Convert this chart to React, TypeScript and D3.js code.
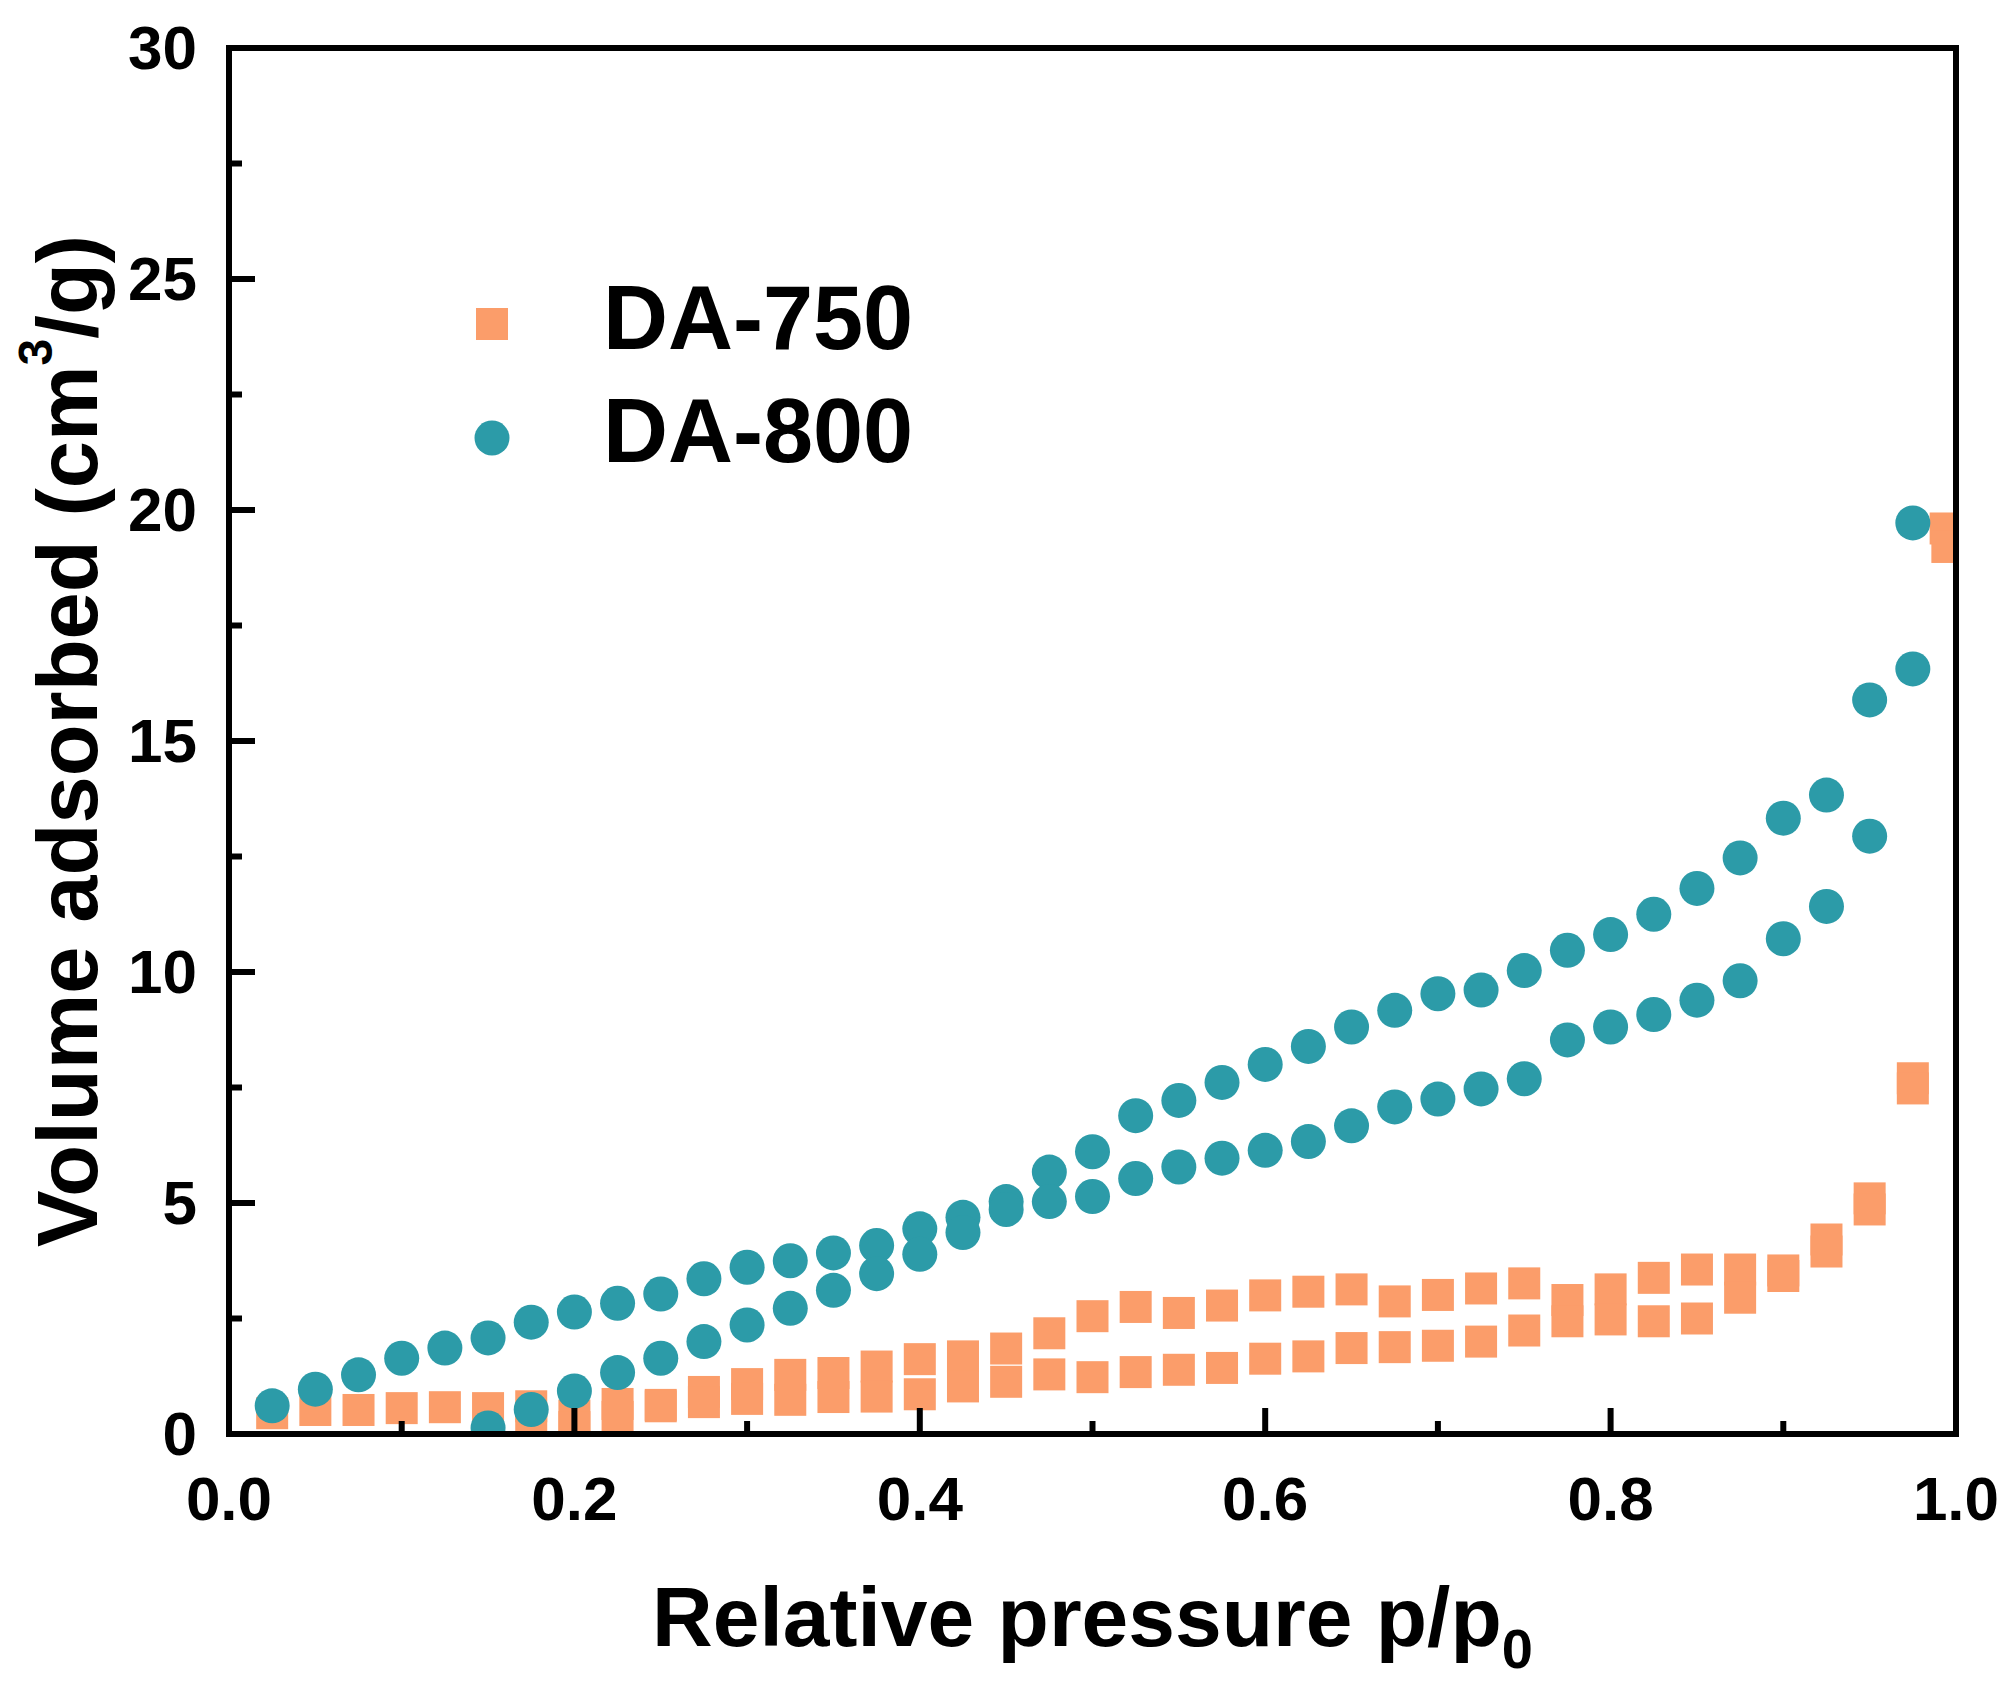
import React from "react";
import * as d3 from "d3";

const W = 2015;
const H = 1688;

// DA-750 (squares) — upper branch
const da750UpperX = [0.025, 0.05, 0.075, 0.1, 0.125, 0.15, 0.175, 0.2, 0.225, 0.25, 0.275, 0.3, 0.325, 0.35, 0.375, 0.4, 0.425, 0.45, 0.475, 0.5, 0.525, 0.55, 0.575, 0.6, 0.625, 0.65, 0.675, 0.7, 0.725, 0.75, 0.775, 0.8, 0.825, 0.85, 0.875, 0.9, 0.925, 0.95, 0.975, 0.994];
const da750UpperY = [0.45, 0.52, 0.52, 0.56, 0.58, 0.56, 0.6, 0.4, 0.65, 0.63, 0.91, 1.08, 1.28, 1.32, 1.46, 1.62, 1.68, 1.85, 2.18, 2.55, 2.75, 2.62, 2.78, 3.0, 3.08, 3.13, 2.87, 3.01, 3.15, 3.26, 2.9, 3.13, 3.38, 3.56, 3.56, 3.54, 4.21, 5.1, 7.7, 19.6];
// DA-750 — lower branch
const da750LowerX = [0.175, 0.2, 0.225, 0.25, 0.275, 0.3, 0.325, 0.35, 0.375, 0.4, 0.425, 0.45, 0.475, 0.5, 0.525, 0.55, 0.575, 0.6, 0.625, 0.65, 0.675, 0.7, 0.725, 0.75, 0.775, 0.8, 0.825, 0.85, 0.875, 0.9, 0.925, 0.95, 0.975, 0.995];
const da750LowerY = [0.2, 0.15, 0.37, 0.6, 0.69, 0.76, 0.74, 0.8, 0.81, 0.86, 1.03, 1.13, 1.29, 1.23, 1.34, 1.39, 1.43, 1.63, 1.68, 1.86, 1.88, 1.91, 2.0, 2.24, 2.44, 2.48, 2.44, 2.5, 2.95, 3.42, 3.95, 4.86, 7.48, 19.2];

// DA-800 (circles) — upper branch
const da800UpperX = [0.025, 0.05, 0.075, 0.1, 0.125, 0.15, 0.175, 0.2, 0.225, 0.25, 0.275, 0.3, 0.325, 0.35, 0.375, 0.4, 0.425, 0.45, 0.475, 0.5, 0.525, 0.55, 0.575, 0.6, 0.625, 0.65, 0.675, 0.7, 0.725, 0.75, 0.775, 0.8, 0.825, 0.85, 0.875, 0.9, 0.925, 0.95, 0.975];
const da800UpperY = [0.61, 0.97, 1.28, 1.64, 1.86, 2.08, 2.42, 2.64, 2.83, 3.03, 3.36, 3.61, 3.75, 3.92, 4.08, 4.44, 4.69, 5.03, 5.67, 6.11, 6.89, 7.22, 7.61, 8.0, 8.39, 8.81, 9.17, 9.53, 9.61, 10.03, 10.47, 10.81, 11.25, 11.81, 12.47, 13.33, 13.83, 15.89, 19.72];
// DA-800 — lower branch
const da800LowerX = [0.15, 0.175, 0.2, 0.225, 0.25, 0.275, 0.3, 0.325, 0.35, 0.375, 0.4, 0.425, 0.45, 0.475, 0.5, 0.525, 0.55, 0.575, 0.6, 0.625, 0.65, 0.675, 0.7, 0.725, 0.75, 0.775, 0.8, 0.825, 0.85, 0.875, 0.9, 0.925, 0.95, 0.975];
const da800LowerY = [0.13, 0.53, 0.93, 1.33, 1.64, 2.0, 2.36, 2.72, 3.11, 3.47, 3.89, 4.36, 4.86, 5.03, 5.14, 5.53, 5.78, 5.97, 6.14, 6.33, 6.67, 7.08, 7.25, 7.47, 7.69, 8.53, 8.81, 9.08, 9.39, 9.81, 10.72, 11.42, 12.94, 16.56];

const xMajorTicks = [0, 0.2, 0.4, 0.6, 0.8, 1.0];
const xMinorTicks = [0.1, 0.3, 0.5, 0.7, 0.9];
const yMajorTicks = [0, 5, 10, 15, 20, 25, 30];
const yMinorTicks = [2.5, 7.5, 12.5, 17.5, 22.5, 27.5];

const legendNames = ["DA-750", "DA-800"];

const ORANGE = "#FB9D6A";
const TEAL = "#2C9BA8";
const FONT = "'Liberation Sans', Arial, Helvetica, sans-serif";

export default function App() {
  const left = 229, right = 1956, top = 48, bottom = 1434;
  const x = d3.scaleLinear().domain([0, 1]).range([left, right]);
  const y = d3.scaleLinear().domain([0, 30]).range([bottom, top]);
  const fmt = d3.format(".1f");
  const sq = 32;
  const r = 17.5;
  const major = 26;
  const minor = 13;
  const sw = 6;

  const squares = [
    ...da750UpperX.map((v, i) => [v, da750UpperY[i]]),
    ...da750LowerX.map((v, i) => [v, da750LowerY[i]]),
  ];
  const circles = [
    ...da800UpperX.map((v, i) => [v, da800UpperY[i]]),
    ...da800LowerX.map((v, i) => [v, da800LowerY[i]]),
  ];

  return (
    <svg
      width={W}
      height={H}
      viewBox={`0 0 ${W} ${H}`}
      style={{ position: "absolute", left: 0, top: 0, background: "#fff" }}
    >
      <defs>
        <clipPath id="plotClip">
          <rect x={left} y={top} width={right - left} height={bottom - top} />
        </clipPath>
      </defs>
      <rect x={0} y={0} width={W} height={H} fill="#fff" />

      <g clipPath="url(#plotClip)">
        {squares.map(([a, b], i) => (
          <rect key={"s" + i} x={x(a) - sq / 2} y={y(b) - sq / 2} width={sq} height={sq} fill={ORANGE} />
        ))}
        {circles.map(([a, b], i) => (
          <circle key={"c" + i} cx={x(a)} cy={y(b)} r={r} fill={TEAL} />
        ))}
      </g>

      {/* ticks */}
      <g stroke="#000" strokeWidth={sw}>
        {xMajorTicks.map((t) => (
          <line key={"xM" + t} x1={x(t)} x2={x(t)} y1={bottom} y2={bottom - major} />
        ))}
        {xMinorTicks.map((t) => (
          <line key={"xm" + t} x1={x(t)} x2={x(t)} y1={bottom} y2={bottom - minor} />
        ))}
        {yMajorTicks.map((t) => (
          <line key={"yM" + t} x1={left} x2={left + major} y1={y(t)} y2={y(t)} />
        ))}
        {yMinorTicks.map((t) => (
          <line key={"ym" + t} x1={left} x2={left + minor} y1={y(t)} y2={y(t)} />
        ))}
      </g>

      {/* frame */}
      <rect
        x={left}
        y={top}
        width={right - left}
        height={bottom - top}
        fill="none"
        stroke="#000"
        strokeWidth={sw}
        strokeLinejoin="miter"
      />

      {/* tick labels */}
      <g fontFamily={FONT} fontWeight="bold" fontSize={62} fill="#000">
        {xMajorTicks.map((t) => (
          <text key={"xl" + t} x={x(t)} y={1520} textAnchor="middle">
            {fmt(t)}
          </text>
        ))}
        {yMajorTicks.map((t) => (
          <text key={"yl" + t} x={197} y={y(t) + 21} textAnchor="end">
            {t}
          </text>
        ))}
      </g>

      {/* axis titles */}
      <text
        x={(left + right) / 2}
        y={1646}
        textAnchor="middle"
        fontFamily={FONT}
        fontWeight="bold"
        fontSize={84}
        fill="#000"
      >
        Relative pressure p/p
        <tspan fontSize={56} dy={22}>0</tspan>
      </text>
      <text
        transform={`translate(97, ${(top + bottom) / 2}) rotate(-90)`}
        textAnchor="middle"
        fontFamily={FONT}
        fontWeight="bold"
        fontSize={85}
        fill="#000"
      >
        Volume adsorbed (cm
        <tspan fontSize={48} dy={-45}>3</tspan>
        <tspan dy={45}>/g)</tspan>
      </text>

      {/* legend */}
      <rect x={492 - sq / 2} y={324 - sq / 2} width={sq} height={sq} fill={ORANGE} />
      <circle cx={492} cy={438} r={r} fill={TEAL} />
      <g fontFamily={FONT} fontWeight="bold" fontSize={90} fill="#000">
        <text x={603} y={349}>{legendNames[0]}</text>
        <text x={603} y={462}>{legendNames[1]}</text>
      </g>
    </svg>
  );
}
